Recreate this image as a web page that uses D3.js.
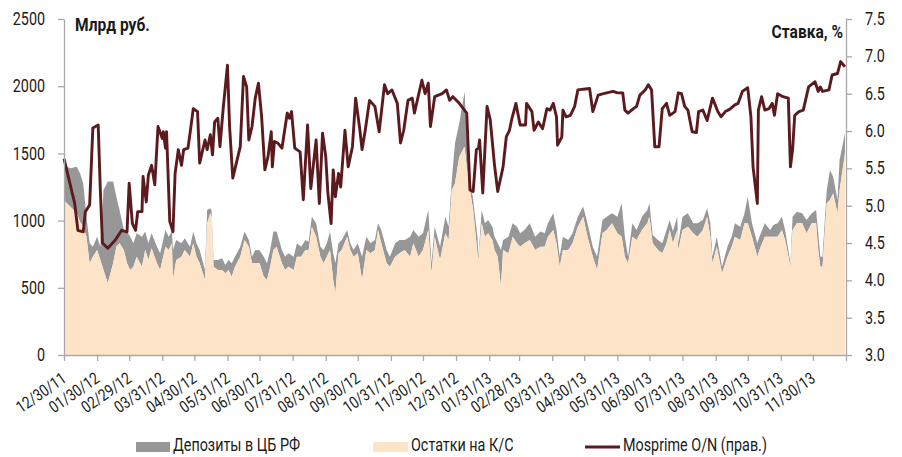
<!DOCTYPE html>
<html><head><meta charset="utf-8">
<script src="https://cdn.jsdelivr.net/npm/d3@7"></script>
<style>
html,body{margin:0;padding:0;background:#fff;}
svg text{font-family:Roboto,"Liberation Sans",sans-serif;fill:#1a1a1a;}
</style></head><body>
<svg id="chart" width="902" height="457"></svg>
<script>
// ---------- DATA ----------
const areaDates = ["2011-12-30","2012-01-05","2012-01-11","2012-01-14","2012-01-17","2012-01-20","2012-01-23","2012-01-26","2012-01-30","2012-02-02","2012-02-05","2012-02-09","2012-02-14","2012-02-17","2012-02-20","2012-02-24","2012-02-27","2012-03-01","2012-03-04","2012-03-07","2012-03-12","2012-03-15","2012-03-18","2012-03-21","2012-03-26","2012-03-29","2012-04-03","2012-04-06","2012-04-09","2012-04-10","2012-04-13","2012-04-18","2012-04-21","2012-04-26","2012-04-29","2012-05-02","2012-05-05","2012-05-10","2012-05-12","2012-05-15","2012-05-16","2012-05-18","2012-05-22","2012-05-26","2012-05-29","2012-06-01","2012-06-04","2012-06-07","2012-06-12","2012-06-16","2012-06-20","2012-06-23","2012-06-26","2012-06-30","2012-07-04","2012-07-07","2012-07-10","2012-07-13","2012-07-16","2012-07-21","2012-07-24","2012-07-27","2012-08-01","2012-08-04","2012-08-08","2012-08-12","2012-08-15","2012-08-18","2012-08-22","2012-08-26","2012-08-29","2012-09-01","2012-09-04","2012-09-07","2012-09-09","2012-09-12","2012-09-15","2012-09-20","2012-09-23","2012-09-26","2012-09-30","2012-10-04","2012-10-08","2012-10-12","2012-10-16","2012-10-19","2012-10-22","2012-10-27","2012-10-30","2012-11-04","2012-11-08","2012-11-13","2012-11-18","2012-11-21","2012-11-26","2012-11-30","2012-12-05","2012-12-08","2012-12-11","2012-12-16","2012-12-21","2012-12-24","2012-12-27","2012-12-30","2013-01-03","2013-01-08","2013-01-10","2013-01-13","2013-01-16","2013-01-20","2013-01-21","2013-01-24","2013-01-27","2013-01-30","2013-02-03","2013-02-05","2013-02-08","2013-02-11","2013-02-13","2013-02-18","2013-02-22","2013-02-26","2013-03-01","2013-03-05","2013-03-10","2013-03-15","2013-03-20","2013-03-24","2013-03-27","2013-04-01","2013-04-04","2013-04-07","2013-04-10","2013-04-15","2013-04-19","2013-04-24","2013-04-29","2013-05-03","2013-05-08","2013-05-12","2013-05-17","2013-05-21","2013-05-26","2013-05-31","2013-06-04","2013-06-07","2013-06-10","2013-06-14","2013-06-18","2013-06-23","2013-06-28","2013-06-30","2013-07-03","2013-07-08","2013-07-12","2013-07-16","2013-07-19","2013-07-22","2013-07-26","2013-07-27","2013-07-31","2013-08-05","2013-08-10","2013-08-14","2013-08-19","2013-08-23","2013-08-26","2013-08-28","2013-09-01","2013-09-06","2013-09-11","2013-09-15","2013-09-18","2013-09-23","2013-09-27","2013-09-30","2013-10-04","2013-10-09","2013-10-11","2013-10-16","2013-10-21","2013-10-24","2013-10-28","2013-11-01","2013-11-04","2013-11-09","2013-11-11","2013-11-15","2013-11-20","2013-11-24","2013-11-29","2013-12-03","2013-12-05","2013-12-07","2013-12-09","2013-12-13","2013-12-16","2013-12-19","2013-12-23","2013-12-25","2013-12-30"];

// Остатки на К/С, млрд руб.
const ostatki = [1150,1103,1054,992,955,880,682,731,781,707,632,533,682,806,831,781,682,632,657,731,657,781,707,794,682,632,806,781,831,558,707,731,781,731,831,731,682,558,980,1054,1029,657,632,632,608,632,583,657,731,856,806,682,682,682,583,558,657,781,806,682,632,657,632,731,731,781,781,955,880,731,682,731,781,558,459,757,781,880,781,731,757,558,781,757,781,930,831,682,657,731,757,781,731,831,731,781,930,608,880,707,905,856,1228,1277,1475,1550,1401,1228,1079,757,707,980,880,905,856,781,731,508,781,757,880,831,806,831,856,781,806,806,880,930,831,657,781,781,831,955,1029,880,731,632,905,930,980,905,880,731,682,880,856,930,980,1029,831,781,757,831,930,831,930,781,930,955,905,880,930,1029,880,682,806,608,731,806,880,856,980,980,880,731,781,880,880,880,880,930,856,657,930,980,980,905,980,980,781,657,657,1129,1153,1203,1054,1228,1500];

// Депозиты в ЦБ РФ, млрд руб.
const depozity = [260,286,347,360,322,149,149,75,99,99,596,757,608,372,248,149,236,248,174,174,223,137,124,111,124,125,124,99,87,223,149,100,87,75,87,100,99,74,99,37,50,50,75,87,62,75,99,74,75,62,50,49,99,98,148,124,124,137,112,99,99,100,99,100,75,75,62,74,100,75,99,100,137,199,223,74,75,50,50,50,74,173,99,74,75,50,99,99,74,100,99,75,149,99,149,124,149,74,75,99,124,99,74,298,249,409,223,99,74,123,24,99,100,99,99,99,100,273,75,123,100,124,99,99,124,99,112,99,100,124,99,74,99,75,74,74,75,100,75,99,99,99,74,124,249,149,49,100,74,99,99,100,62,75,74,99,74,87,99,50,99,99,75,100,74,62,100,49,74,49,75,74,100,99,74,198,100,100,99,100,50,87,100,99,74,25,99,86,74,99,74,99,124,74,74,99,223,124,99,223,150];

const rateDates = ["2011-12-30","2012-01-09","2012-01-12","2012-01-17","2012-01-19","2012-01-23","2012-01-26","2012-01-31","2012-02-02","2012-02-04","2012-02-09","2012-02-16","2012-02-22","2012-02-27","2012-02-29","2012-03-03","2012-03-06","2012-03-08","2012-03-12","2012-03-13","2012-03-16","2012-03-18","2012-03-21","2012-03-24","2012-03-27","2012-03-31","2012-04-01","2012-04-03","2012-04-04","2012-04-07","2012-04-10","2012-04-12","2012-04-15","2012-04-18","2012-04-20","2012-04-24","2012-04-26","2012-04-29","2012-05-03","2012-05-05","2012-05-10","2012-05-12","2012-05-15","2012-05-17","2012-05-19","2012-05-22","2012-05-24","2012-05-27","2012-05-31","2012-06-02","2012-06-05","2012-06-09","2012-06-12","2012-06-15","2012-06-18","2012-06-20","2012-06-23","2012-06-26","2012-06-29","2012-07-02","2012-07-05","2012-07-08","2012-07-11","2012-07-12","2012-07-14","2012-07-17","2012-07-21","2012-07-26","2012-07-28","2012-07-30","2012-08-02","2012-08-07","2012-08-10","2012-08-14","2012-08-17","2012-08-22","2012-08-25","2012-08-28","2012-08-31","2012-09-02","2012-09-05","2012-09-07","2012-09-09","2012-09-12","2012-09-14","2012-09-18","2012-09-21","2012-09-25","2012-09-28","2012-10-02","2012-10-04","2012-10-07","2012-10-11","2012-10-16","2012-10-20","2012-10-25","2012-10-28","2012-11-01","2012-11-06","2012-11-09","2012-11-12","2012-11-16","2012-11-20","2012-11-22","2012-11-29","2012-12-02","2012-12-05","2012-12-07","2012-12-11","2012-12-18","2012-12-22","2012-12-25","2012-12-28","2013-01-03","2013-01-10","2013-01-13","2013-01-16","2013-01-19","2013-01-21","2013-01-22","2013-01-25","2013-01-29","2013-02-01","2013-02-05","2013-02-08","2013-02-13","2013-02-16","2013-02-19","2013-02-21","2013-02-25","2013-03-01","2013-03-06","2013-03-07","2013-03-12","2013-03-14","2013-03-18","2013-03-22","2013-03-26","2013-03-29","2013-04-01","2013-04-04","2013-04-05","2013-04-09","2013-04-10","2013-04-13","2013-04-17","2013-04-21","2013-04-24","2013-04-29","2013-05-05","2013-05-08","2013-05-13","2013-05-18","2013-05-27","2013-05-31","2013-06-05","2013-06-07","2013-06-10","2013-06-15","2013-06-18","2013-06-21","2013-06-26","2013-06-29","2013-07-02","2013-07-05","2013-07-09","2013-07-12","2013-07-16","2013-07-19","2013-07-24","2013-07-27","2013-07-30","2013-08-02","2013-08-05","2013-08-09","2013-08-13","2013-08-15","2013-08-19","2013-08-23","2013-08-28","2013-08-30","2013-09-02","2013-09-05","2013-09-09","2013-09-13","2013-09-18","2013-09-21","2013-09-25","2013-09-30","2013-10-03","2013-10-05","2013-10-09","2013-10-10","2013-10-13","2013-10-16","2013-10-20","2013-10-23","2013-10-25","2013-10-28","2013-11-02","2013-11-07","2013-11-09","2013-11-11","2013-11-13","2013-11-17","2013-11-21","2013-11-26","2013-12-02","2013-12-05","2013-12-07","2013-12-09","2013-12-15","2013-12-18","2013-12-23","2013-12-26","2013-12-30"];

// Mosprime O/N, %
const mosprime = [5.63,5.03,4.67,4.65,4.92,5.01,6.04,6.08,5.21,4.50,4.43,4.54,4.67,4.65,5.30,4.76,4.67,4.92,4.92,5.39,5.05,5.41,5.54,5.28,6.06,5.90,5.99,5.77,5.99,4.79,4.65,5.43,5.75,5.54,5.75,5.77,5.97,6.30,6.26,5.57,5.88,5.75,5.95,5.68,6.12,6.17,5.79,6.30,6.88,6.06,5.37,5.61,5.79,6.73,6.59,5.88,6.06,6.44,6.64,6.19,5.48,5.66,5.99,5.52,5.86,5.84,5.77,6.24,6.17,6.26,5.77,5.72,5.08,6.08,5.23,5.88,5.03,5.97,5.66,5.17,4.76,5.48,5.12,5.43,5.25,6.01,5.52,5.79,6.44,6.01,5.75,6.01,6.41,6.33,5.99,6.62,6.50,6.55,6.37,5.84,6.01,6.41,6.44,6.24,6.68,6.50,6.64,6.06,6.46,6.50,6.55,6.41,6.46,6.37,6.24,5.21,5.19,5.75,5.77,5.88,5.17,6.33,6.15,5.54,5.19,5.52,5.92,6.01,6.15,6.37,6.08,6.08,6.37,6.26,6.01,6.12,6.03,6.30,6.28,6.37,6.19,5.81,5.92,6.28,6.19,6.21,6.33,6.55,6.56,6.57,6.26,6.48,6.50,6.53,6.51,6.51,6.28,6.24,6.30,6.33,6.48,6.55,6.62,6.55,5.79,5.79,6.30,6.37,6.21,6.26,6.51,6.50,6.33,6.28,5.99,5.98,6.26,6.28,6.14,6.44,6.37,6.26,6.19,6.26,6.29,6.35,6.37,6.53,6.58,6.19,5.52,5.03,6.28,6.46,6.28,6.30,6.37,6.21,6.50,6.46,6.44,5.52,5.75,6.21,6.26,6.28,6.59,6.66,6.53,6.59,6.53,6.55,6.75,6.77,6.93,6.86];

const xTickLabels = ["12/30/11","01/30/12","02/29/12","03/31/12","04/30/12","05/31/12","06/30/12","07/31/12","08/31/12","09/30/12","10/31/12","11/30/12","12/31/12","01/31/13","02/28/13","03/31/13","04/30/13","05/31/13","06/30/13","07/31/13","08/31/13","09/30/13","10/31/13","11/30/13"];
const xEnd = "12/31/13";
const leftTicks = [0,500,1000,1500,2000,2500];
const rightTicks = [3.0,3.5,4.0,4.5,5.0,5.5,6.0,6.5,7.0,7.5];
const legendLabels = ["Депозиты в ЦБ РФ","Остатки на К/С","Mosprime O/N (прав.)"];
const leftTitle = "Млрд руб.";
const rightTitle = "Ставка, %";

// ---------- CHART ----------
const parse = d3.timeParse("%Y-%m-%d");
const parseTick = d3.timeParse("%m/%d/%y");
const svg = d3.select("#chart");
const L = 64, R = 846, T = 19, B = 355;
const C_PEACH = "#fde4c9", C_GRAY = "#979797", C_LINE = "#5b1a1e", C_AXIS = "#a8a8a8";
const SX = 0.82; // horizontal condensing of the font

function condense(sel) {
  sel.each(function () {
    const t = d3.select(this);
    const px = +t.attr("x") || 0, py = +t.attr("y") || 0;
    const prev = t.attr("transform") || "";
    t.attr("transform", `${prev} translate(${px},${py}) scale(${SX},1) translate(${-px},${-py})`);
  });
}

const x = d3.scaleTime().domain([parseTick(xTickLabels[0]), parseTick(xEnd)]).range([L, R]);
const yL = d3.scaleLinear().domain([0, 2500]).range([B, T]);
const yR = d3.scaleLinear().domain([3, 7.5]).range([B, T]);

const areaData = areaDates.map((d, i) => ({date: parse(d), o: ostatki[i], dep: depozity[i]}));
const rateData = rateDates.map((d, i) => ({date: parse(d), v: mosprime[i]}));

svg.append("path").datum(areaData)
  .attr("fill", C_GRAY)
  .attr("d", d3.area().x(d => x(d.date)).y0(d => yL(d.o)).y1(d => yL(d.o + d.dep)));
svg.append("path").datum(areaData)
  .attr("fill", C_PEACH)
  .attr("d", d3.area().x(d => x(d.date)).y0(yL(0)).y1(d => yL(d.o)));

svg.append("path").datum(rateData)
  .attr("fill", "none").attr("stroke", C_LINE).attr("stroke-width", 2.9)
  .attr("stroke-linejoin", "round")
  .attr("d", d3.line().x(d => x(d.date)).y(d => yR(d.v)));

// axes
function styleAxis(g) {
  g.selectAll("path.domain").attr("stroke", C_AXIS).attr("stroke-width", 1.3);
  g.selectAll(".tick line").attr("stroke", C_AXIS).attr("stroke-width", 1.3);
  g.selectAll("text").attr("font-size", 17.5).attr("fill", "#1a1a1a");
}
const gL = svg.append("g").attr("transform", `translate(${L},0)`)
  .call(d3.axisLeft(yL).tickValues(leftTicks).tickSize(6).tickSizeOuter(0).tickPadding(13).tickFormat(d3.format("d")));
styleAxis(gL);
condense(gL.selectAll(".tick text"));
const gR = svg.append("g").attr("transform", `translate(${R},0)`)
  .call(d3.axisRight(yR).tickValues(rightTicks).tickSize(6).tickSizeOuter(0).tickPadding(13).tickFormat(d3.format(".1f")));
styleAxis(gR);
condense(gR.selectAll(".tick text"));

const tickDates = xTickLabels.map(parseTick).concat([parseTick(xEnd)]);
const gB = svg.append("g").attr("transform", `translate(0,${B})`)
  .call(d3.axisBottom(x).tickValues(tickDates).tickSize(6).tickSizeOuter(0)
    .tickFormat((d, i) => i < xTickLabels.length ? xTickLabels[i] : ""));
styleAxis(gB);
gB.selectAll(".tick text")
  .attr("font-size", 16.5)
  .attr("text-anchor", "end")
  .attr("dy", null).attr("y", null)
  .attr("transform", `translate(3,26) rotate(-35) scale(${SX},1)`);

// titles
const t1 = svg.append("text").attr("x", 75).attr("y", 31).attr("font-size", 19).style("font-weight", "bold").text(leftTitle);
const t2 = svg.append("text").attr("x", 843).attr("y", 38).attr("font-size", 19).style("font-weight", "bold").attr("text-anchor", "end").text(rightTitle);
condense(t1); condense(t2);

// legend
const lg = svg.append("g");
lg.append("rect").attr("x", 136).attr("y", 442).attr("width", 34).attr("height", 10).attr("fill", C_GRAY);
lg.append("text").attr("x", 173).attr("y", 451).attr("font-size", 17.5).text(legendLabels[0]);
lg.append("rect").attr("x", 373).attr("y", 442).attr("width", 35).attr("height", 10).attr("fill", C_PEACH);
lg.append("text").attr("x", 411).attr("y", 451).attr("font-size", 17.5).text(legendLabels[1]);
lg.append("line").attr("x1", 585).attr("x2", 620).attr("y1", 447).attr("y2", 447).attr("stroke", C_LINE).attr("stroke-width", 2.9);
lg.append("text").attr("x", 623).attr("y", 451).attr("font-size", 17.5).text(legendLabels[2]);
condense(lg.selectAll("text"));
</script>
</body></html>
